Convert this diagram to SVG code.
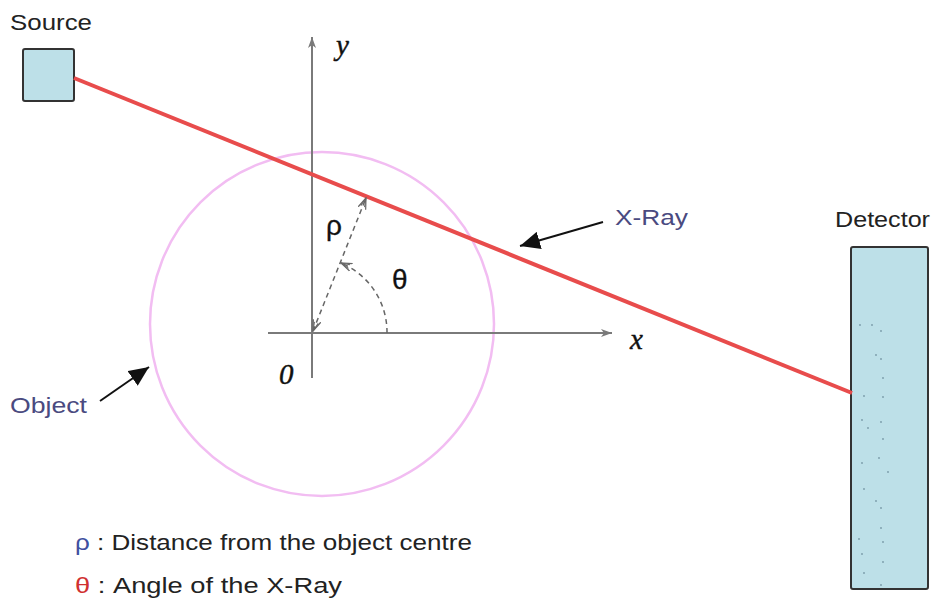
<svg xmlns="http://www.w3.org/2000/svg" width="936" height="603" viewBox="0 0 936 603">
<style>
.lbl{font-family:"Liberation Sans","DejaVu Sans",sans-serif;font-size:22px;fill:#222}
.blue{fill:#4a4a80}
.math{font-family:"Liberation Serif","DejaVu Serif",serif;font-style:italic;font-size:29px;fill:#111;stroke:#111;stroke-width:0.4}
.greek{font-family:"Liberation Sans","DejaVu Sans",sans-serif;font-size:28px;fill:#111;stroke:#111;stroke-width:0.3}
.box{fill:#bde0e8;stroke:#333;stroke-width:2}
.axis{stroke:#7a7a7a;stroke-width:2;fill:none}
.dash{stroke:#666;stroke-width:1.5;stroke-dasharray:5,4;fill:none}
.ptr{stroke:#111;stroke-width:2;fill:none}
.dot{fill:#7a9aa8}
</style>
<defs>
<marker id="axArrow" markerWidth="12" markerHeight="10" refX="11" refY="5" orient="auto" markerUnits="userSpaceOnUse">
<path d="M0,1 L11,5 L0,9 L3,5 Z" fill="#7a7a7a"/>
</marker>
<marker id="dArrow" markerWidth="12" markerHeight="10" refX="11" refY="5" orient="auto" markerUnits="userSpaceOnUse">
<path d="M0,1 L11,5 L0,9" fill="none" stroke="#666" stroke-width="1.2"/>
<path d="M2,3 L11,5 L2,7" fill="none" stroke="#666" stroke-width="1"/>
</marker>
<marker id="dArrowS" markerWidth="12" markerHeight="10" refX="1" refY="5" orient="auto" markerUnits="userSpaceOnUse">
<path d="M12,1 L1,5 L12,9" fill="none" stroke="#666" stroke-width="1.2"/>
<path d="M10,3 L1,5 L10,7" fill="none" stroke="#666" stroke-width="1"/>
</marker>
<marker id="bArrow" markerWidth="22" markerHeight="18" refX="20" refY="9" orient="auto" markerUnits="userSpaceOnUse">
<path d="M0,0 L20,9 L0,18 Z" fill="#111"/>
</marker>
</defs>

<g id="object">
<circle cx="322" cy="324" r="172" fill="none" stroke="#f2bdf2" stroke-width="2.5"/>
</g>

<g id="axes">
<line class="axis" x1="312" y1="378" x2="312" y2="37" marker-end="url(#axArrow)"/>
<line class="axis" x1="268" y1="333" x2="612" y2="333" marker-end="url(#axArrow)"/>
<text class="math" x="336" y="55">y</text>
<text class="math" x="630" y="349">x</text>
<text class="math" x="279" y="384">0</text>
</g>

<g id="source">
<rect class="box" x="23" y="49" width="51" height="52" rx="2"/>
<text class="lbl" x="10" y="30" textLength="82" lengthAdjust="spacingAndGlyphs">Source</text>
</g>

<g id="detector">
<rect class="box" x="851" y="247" width="77" height="342" rx="2"/>
<text class="lbl" x="835" y="227" textLength="95" lengthAdjust="spacingAndGlyphs">Detector</text>
<g>
<circle class="dot" cx="860" cy="325" r="0.9"/><circle class="dot" cx="872" cy="325" r="0.9"/><circle class="dot" cx="881" cy="331" r="0.9"/>
<circle class="dot" cx="876" cy="355" r="0.9"/><circle class="dot" cx="881" cy="359" r="0.9"/><circle class="dot" cx="883" cy="378" r="0.9"/>
<circle class="dot" cx="864" cy="396" r="0.9"/><circle class="dot" cx="883" cy="397" r="0.9"/><circle class="dot" cx="862" cy="420" r="0.9"/>
<circle class="dot" cx="868" cy="428" r="0.9"/><circle class="dot" cx="881" cy="422" r="0.9"/><circle class="dot" cx="883" cy="439" r="0.9"/>
<circle class="dot" cx="862" cy="463" r="0.9"/><circle class="dot" cx="879" cy="458" r="0.9"/><circle class="dot" cx="888" cy="472" r="0.9"/>
<circle class="dot" cx="864" cy="489" r="0.9"/><circle class="dot" cx="876" cy="501" r="0.9"/><circle class="dot" cx="881" cy="508" r="0.9"/>
<circle class="dot" cx="881" cy="528" r="0.9"/><circle class="dot" cx="859" cy="539" r="0.9"/><circle class="dot" cx="883" cy="542" r="0.9"/>
<circle class="dot" cx="862" cy="554" r="0.9"/><circle class="dot" cx="883" cy="562" r="0.9"/><circle class="dot" cx="864" cy="573" r="0.9"/>
<circle class="dot" cx="881" cy="585" r="0.9"/>
</g>
</g>

<g id="connectors">
<line x1="74" y1="78" x2="852" y2="393" stroke="#e84c4c" stroke-width="4"/>
<line class="dash" x1="313" y1="331" x2="366" y2="198" marker-start="url(#dArrowS)" marker-end="url(#dArrow)"/>
<path class="dash" d="M387,333 A75,75 0 0 0 341,263" marker-end="url(#dArrow)"/>
<line class="ptr" x1="603" y1="222" x2="520" y2="246" marker-end="url(#bArrow)"/>
<line class="ptr" x1="100" y1="401" x2="149" y2="367" marker-end="url(#bArrow)"/>
</g>

<g id="labels">
<text class="greek" x="326" y="235">ρ</text>
<text class="greek" x="392" y="289">θ</text>
<text class="lbl blue" x="615" y="225" textLength="73" lengthAdjust="spacingAndGlyphs">X-Ray</text>
<text class="lbl blue" x="10" y="413" textLength="77" lengthAdjust="spacingAndGlyphs">Object</text>
</g>

<g id="legend">
<text class="lbl" x="75" y="550" font-size="20" textLength="397" lengthAdjust="spacingAndGlyphs"><tspan fill="#4050a0">ρ</tspan> : Distance from the object centre</text>
<text class="lbl" x="75" y="593" font-size="20" textLength="267" lengthAdjust="spacingAndGlyphs"><tspan fill="#d03030">θ</tspan> : Angle of the X-Ray</text>
</g>
</svg>
